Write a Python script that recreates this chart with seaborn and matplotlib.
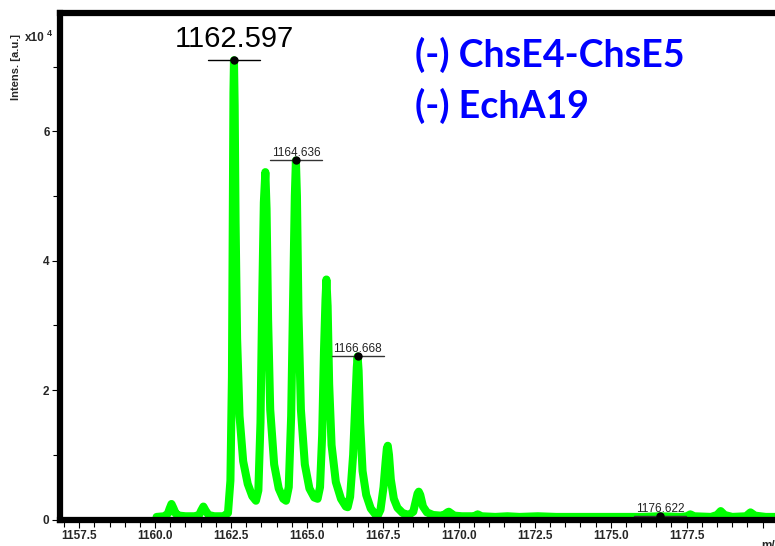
import matplotlib
matplotlib.use("Agg")
import matplotlib.pyplot as plt
import seaborn as sns
import pandas as pd
from matplotlib.ticker import MultipleLocator, FormatStrFormatter

sns.set_style("white")
plt.rcParams['font.family'] = ['Liberation Sans', 'DejaVu Sans']

# spectrum profile (m/z, intensity in 1e4 a.u.)
mz = [1160.05, 1160.30, 1160.42, 1160.48, 1160.54, 1160.60, 1160.68, 1160.80, 1161.00, 1161.30,
      1161.45, 1161.52, 1161.59, 1161.66, 1161.76, 1161.95, 1162.25, 1162.40, 1162.48, 1162.53,
      1162.56, 1162.58, 1162.597, 1162.62, 1162.65, 1162.70, 1162.78, 1162.90, 1163.05, 1163.20,
      1163.32, 1163.40, 1163.47, 1163.53, 1163.58, 1163.63, 1163.67, 1163.72, 1163.79, 1163.92,
      1164.07, 1164.22, 1164.31, 1164.40, 1164.48, 1164.55, 1164.60, 1164.636, 1164.67, 1164.72,
      1164.80, 1164.93, 1165.08, 1165.24, 1165.35, 1165.43, 1165.50, 1165.56, 1165.61, 1165.64,
      1165.68, 1165.73, 1165.81, 1165.95, 1166.12, 1166.28, 1166.34, 1166.42, 1166.52, 1166.60,
      1166.64, 1166.668, 1166.70, 1166.75, 1166.83, 1166.95, 1167.10, 1167.25, 1167.33, 1167.42,
      1167.52, 1167.59, 1167.63, 1167.66, 1167.70, 1167.76, 1167.86, 1167.98, 1168.15, 1168.35,
      1168.50, 1168.58, 1168.64, 1168.68, 1168.73, 1168.82, 1168.95, 1169.15, 1169.40, 1169.55,
      1169.62, 1169.67, 1169.73, 1169.85, 1170.10, 1170.50, 1170.62, 1170.75, 1171.20, 1171.60,
      1172.00, 1172.60, 1173.20, 1174.00, 1175.00, 1176.00, 1176.62, 1177.30, 1177.50, 1177.62,
      1177.75, 1178.30, 1178.50, 1178.62, 1178.75, 1179.00, 1179.45, 1179.60, 1179.75, 1180.10,
      1181.00]
intensity = [0.04, 0.05, 0.09, 0.17, 0.24, 0.18, 0.09, 0.06, 0.05, 0.05,
             0.07, 0.14, 0.20, 0.14, 0.07, 0.05, 0.05, 0.10, 0.60, 2.20,
             4.80, 6.60, 7.10, 6.40, 4.60, 2.80, 1.60, 0.90, 0.55, 0.36,
             0.29, 0.45, 1.50, 3.50, 4.90, 5.37, 4.80, 3.10, 1.70, 0.85,
             0.48, 0.32, 0.29, 0.50, 1.60, 3.60, 5.00, 5.55, 5.00, 3.20,
             1.70, 0.85, 0.48, 0.34, 0.32, 0.50, 1.30, 2.60, 3.40, 3.71,
             3.30, 2.10, 1.15, 0.58, 0.32, 0.20, 0.19, 0.35, 1.00, 1.90,
             2.35, 2.52, 2.30, 1.50, 0.75, 0.38, 0.17, 0.08, 0.06, 0.15,
             0.50, 0.90, 1.10, 1.14, 1.00, 0.62, 0.32, 0.18, 0.10, 0.07,
             0.12, 0.28, 0.40, 0.43, 0.38, 0.20, 0.11, 0.07, 0.06, 0.08,
             0.11, 0.12, 0.10, 0.06, 0.05, 0.05, 0.08, 0.05, 0.04, 0.05,
             0.04, 0.05, 0.04, 0.04, 0.04, 0.04, 0.05, 0.04, 0.05, 0.08,
             0.05, 0.04, 0.07, 0.13, 0.07, 0.04, 0.05, 0.11, 0.06, 0.04,
             0.04]

# labelled peaks
peak_mz = [1162.597, 1164.636, 1166.668, 1176.622]
peak_int = [7.10, 5.55, 2.52, 0.05]
peak_labels = ['1162.597', '1164.636', '1166.668', '1176.622']

sample_lines = ['(-) ChsE4-ChsE5', '(-) EchA19']

df = pd.DataFrame({'mz': mz, 'intensity': intensity})

fig = plt.figure(figsize=(7.75, 5.46), dpi=100)
ax = fig.add_axes([60 / 775, 26.5 / 546, 733 / 775, 506.5 / 546])

sns.lineplot(data=df, x='mz', y='intensity', ax=ax, color='#00ff00', linewidth=5.8,
             estimator=None, sort=False, solid_joinstyle='round', solid_capstyle='round')

ax.set_xlim(1156.87, 1181.0)
ax.set_ylim(0, 7.83)

# peak labels with underline and dot
for i, (x, y, lab) in enumerate(zip(peak_mz, peak_int, peak_labels)):
    big = i == 0
    ax.plot([x - 0.86, x + 0.86], [y, y], color='black' if big else '#333333', lw=1.0, zorder=4)
    ax.plot([x], [y], 'o', color='black', ms=5, zorder=5)
    ax.annotate(lab, xy=(x, y), xytext=(0, 5 if big else 0.8), textcoords='offset points',
                ha='center', va='bottom', fontsize=21 if big else 8.5, color='black' if big else '#222222')

# sample description
for j, line in enumerate(sample_lines):
    fig.text(415 / 775, 1 - (67 + 51 * j) / 546, line, family='Lato', fontweight='bold',
             fontsize=27, color='#0000ff', ha='left', va='baseline')

ax.xaxis.set_major_locator(MultipleLocator(2.5))
ax.xaxis.set_minor_locator(MultipleLocator(0.5))
ax.xaxis.set_major_formatter(FormatStrFormatter('%.1f'))
ax.yaxis.set_major_locator(MultipleLocator(2))
ax.yaxis.set_minor_locator(MultipleLocator(1))
ax.tick_params(which='both', direction='out', color='black', width=0.8)
ax.tick_params(which='major', length=6, labelsize=8.5, pad=1.5)
ax.tick_params(which='minor', length=5)
ax.tick_params(axis='both', which='both', bottom=True, left=True, top=False, right=False)
for lab in ax.get_xticklabels() + ax.get_yticklabels():
    lab.set_fontweight('bold')
for t in ax.xaxis.get_major_ticks():
    if abs(t.get_loc() - 1180.0) < 0.01:
        t.label1.set_visible(False)

for side in ['left', 'top', 'bottom', 'right']:
    ax.spines[side].set_linewidth(4.5)
    ax.spines[side].set_color('black')

ax.set_xlabel('')
ax.set_ylabel('')
fig.text(16 / 775, 1 - 67 / 546, 'Intens. [a.u.]', rotation=90, fontsize=8, fontweight='bold',
         ha='center', va='center')
fig.text(25 / 775, 1 - 38 / 546, 'x10', fontsize=8.5, fontweight='bold', ha='left', va='center')
fig.text(47 / 775, 1 - 34 / 546, '4', fontsize=6.5, fontweight='bold', ha='left', va='center')
fig.text(761 / 775, 1 - 540 / 546, 'm/z', fontsize=8.5, fontweight='bold', ha='left', va='top')

fig.savefig('out.png', dpi=100)
